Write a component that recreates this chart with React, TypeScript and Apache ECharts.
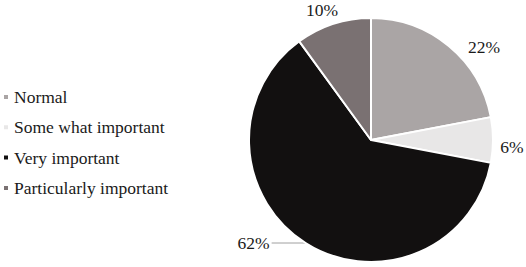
import React, { useEffect, useRef } from "react";
import * as echarts from "echarts";

const categories = ["Normal", "Some what important", "Very important", "Particularly important"];
const values = [22, 6, 62, 10];
const colors = ["#aaa5a5", "#e8e7e7", "#121010", "#7a7172"];
// label anchor positions (layout only, centre of each percentage text); null = library default
const labelAnchors: ([number, number] | null)[] = [[484, 47], [512, 147], null, [322, 10]];

export default function App() {
  const ref = useRef<HTMLDivElement>(null);
  useEffect(() => {
    document.body.style.margin = "0";
    const chart = echarts.init(ref.current!, null, { renderer: "svg" });
    chart.setOption({
      animation: false,
      backgroundColor: "#ffffff",
      color: colors,
      legend: {
        orient: "vertical",
        left: 2,
        top: 88,
        padding: 0,
        itemWidth: 6,
        itemHeight: 6,
        itemGap: 12.3,
        icon: "rect",
        textStyle: { fontFamily: "Liberation Serif", fontSize: 17.5, lineHeight: 18, color: "#1a1a1a" },
        data: categories,
      },
      series: [
        {
          type: "pie",
          center: [371, 140],
          radius: 122,
          startAngle: 90,
          clockwise: true,
          avoidLabelOverlap: false,
          itemStyle: { borderColor: "#ffffff", borderWidth: 2 },
          label: {
            position: "outside",
            formatter: "{c}%",
            fontFamily: "Liberation Serif",
            fontSize: 17.5,
            color: "#1a1a1a",
            distanceToLabelLine: 2,
          },
          labelLine: { show: false, length: 0, length2: 34, lineStyle: { color: "#a0a0a0", width: 1 } },
          labelLayout: (params: any) => {
            const a = labelAnchors[params.dataIndex];
            if (!a) return { hideOverlap: false };
            return { x: a[0], y: a[1], align: "center", verticalAlign: "middle", hideOverlap: false };
          },
          data: categories.map((name, i) => ({
            name,
            value: values[i],
            labelLine: { show: i === 2 },
          })),
        },
      ],
    });
    return () => chart.dispose();
  }, []);
  return <div ref={ref} style={{ position: "absolute", left: 0, top: 0, width: 526, height: 267 }} />;
}
